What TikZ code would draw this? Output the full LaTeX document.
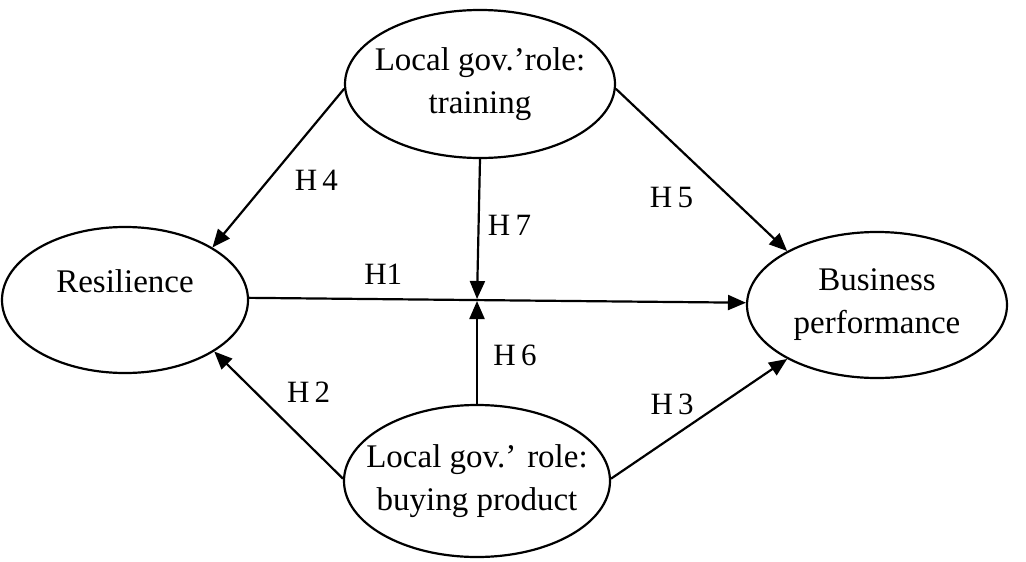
\documentclass[tikz,border=0pt]{standalone}
\usepackage{fontspec}
\setmainfont{Liberation Serif}
\usepackage{tikz}
\usetikzlibrary{shapes.geometric,arrows.meta}

\begin{document}
\begin{tikzpicture}[x=1pt, y=-1pt, line width=2.2pt,
	>={Triangle[length=18pt,width=15pt]},
	construct/.style={ellipse, draw, align=center, inner sep=-30pt,
		font=\fontsize{33}{43}\selectfont},
	hyp/.style={font=\fontsize{31}{36}\selectfont, inner sep=0pt}]
	\useasboundingbox (0,0) rectangle (1026,562);

	% Define nodes
	\node (train) [construct, minimum width=270, minimum height=148] at (480,84) {Local gov.'role:\\training};
	\node (buy) [construct, minimum width=266, minimum height=152] at (477,481) {Local gov.' role:\\buying product};
	\node (resil) [construct, minimum width=246, minimum height=146, text depth=38pt] at (125,300) {Resilience};
	\node (bus) [construct, minimum width=260, minimum height=146] at (877,305) {Business\\performance};
	\coordinate (cross) at (477,300);

	% Draw edges
	\path[->]
	(train.182) edge node[hyp, xshift=38, yshift=-12] {H\,4} (resil.31)
	(train.358) edge node[hyp, xshift=-30, yshift=-28] {H\,5} (bus.149)
	(train.south) edge[shorten >=1pt] node[hyp, xshift=31, yshift=4] {H\,7} (cross)
	(resil.1) edge node[hyp, pos=.27, yshift=25] {H1} (bus.179)
	(buy.north) edge[shorten >=1pt] node[hyp, xshift=38, yshift=-3] {H\,6} (cross)
	(buy.179) edge node[hyp, xshift=30, yshift=23] {H\,2} (resil.330)
	(buy.1) edge node[hyp, xshift=-27, yshift=14] {H\,3} (bus.211);
\end{tikzpicture}
\end{document}
